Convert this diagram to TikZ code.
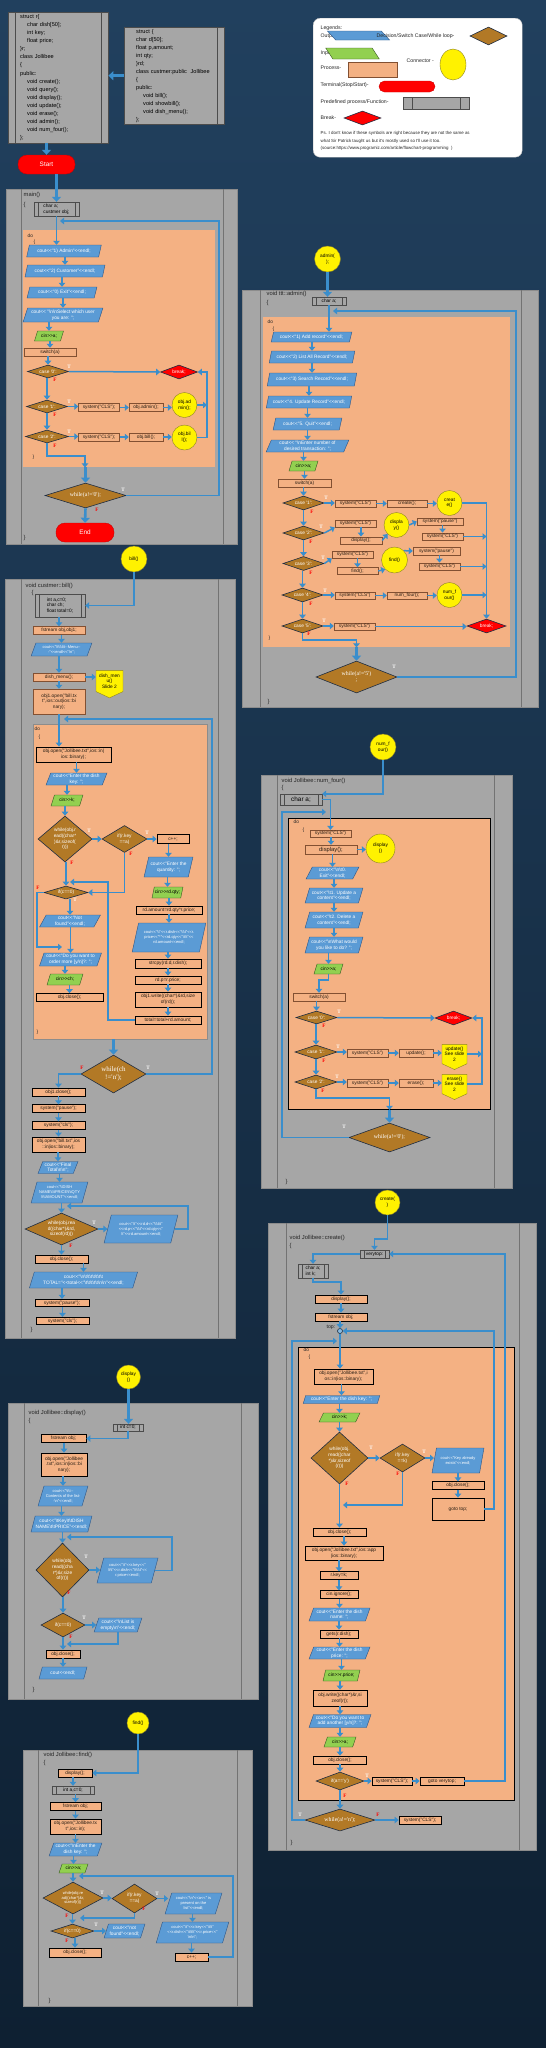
\documentclass[tikz,border=0pt]{standalone}
\usepackage{fontspec}
\setmainfont{Liberation Sans}[Ligatures=TeXOff]
\newfontfamily\serifface{Liberation Serif}[Ligatures=TeXOff]
\usetikzlibrary{shapes.geometric}
\usetikzlibrary{shapes.symbols}
\usetikzlibrary{arrows.meta}

\definecolor{bgtop}{RGB}{33,64,94}
\definecolor{bgbot}{RGB}{14,32,50}
\definecolor{panelgray}{RGB}{166,166,166}
\definecolor{doorange}{RGB}{244,177,131}
\definecolor{procline}{RGB}{130,80,50}
\definecolor{outblue}{RGB}{91,155,213}
\definecolor{outline}{RGB}{46,84,130}
\definecolor{ingreen}{RGB}{146,208,80}
\definecolor{inline}{RGB}{56,87,35}
\definecolor{decbrown}{RGB}{178,121,38}
\definecolor{decline}{RGB}{31,45,66}
\definecolor{arblue}{RGB}{58,142,204}
\definecolor{connline}{RGB}{140,130,40}
\definecolor{txtdark}{RGB}{40,30,20}

\newcommand{\bsl}{\textbackslash}
\newcommand{\fcode}{\fontsize{4.8}{5.6}\selectfont}
\newcommand{\fhead}{\fontsize{5.8}{6.6}\selectfont}
\newcommand{\fwhile}{\serifface\fontsize{5.8}{6.6}\selectfont}

\tikzset{
  every node/.style={align=center, inner sep=0.5pt, font=\fcode},
  sz/.style 2 args={minimum width=#1, minimum height=#2},
  smalltxt/.style={font=\fontsize{4}{4.8}\selectfont},
  outbox/.style={trapezium, trapezium left angle=70, trapezium right angle=110,
    trapezium stretches, inner xsep=-1pt, draw=outline, fill=outblue, text=white, line width=0.4pt},
  inbox/.style={outbox, draw=inline, fill=ingreen, text=black},
  procbox/.style={rectangle, draw=procline, fill=doorange, text=txtdark, line width=0.4pt},
  procbold/.style={procbox, draw=black, line width=0.8pt},
  decbox/.style={diamond, aspect=3, inner sep=0pt, draw=decline, fill=decbrown, text=white, line width=0.6pt},
  brkbox/.style={decbox, fill=red},
  wtxt/.style={font=\fwhile},
  conn/.style={circle, inner sep=0pt, draw=connline, fill=yellow, text=black},
  offpage/.style={signal, signal to=south, signal pointer angle=130, inner sep=0pt,
    draw=connline, fill=yellow, text=black},
  term/.style={rectangle, rounded corners=9pt, draw=red!80!black, fill=red, text=white,
    font=\fontsize{6.4}{7}\selectfont},
  predef/.style={rectangle, draw=black!70, fill=panelgray, text=black, line width=0.4pt,
    path picture={\draw[black!70, line width=0.4pt]
      ([xshift=#1]path picture bounding box.north west) -- ([xshift=#1]path picture bounding box.south west)
      ([xshift=-#1]path picture bounding box.north east) -- ([xshift=-#1]path picture bounding box.south east);}},
  predef/.default=4pt,
  predefr/.style={rectangle, draw=black!70, fill=panelgray, text=black, line width=0.4pt,
    path picture={\draw[black!70, line width=0.4pt]
      ([xshift=-7pt]path picture bounding box.north east) -- ([xshift=-7pt]path picture bounding box.south east);}},
  dobox/.style={rectangle, anchor=north west, inner sep=0pt, fill=doorange},
  panel/.style={fill=panelgray, draw=black!45, line width=0.6pt},
  pline/.style={draw=black!55, line width=0.5pt},
  hdr/.style={anchor=west, text=black!85, font=\fhead},
  dlab/.style={anchor=west, text=black!85},
  lgtxt/.style={anchor=west, text=black!85, font=\fontsize{5.2}{6}\selectfont},
  tlab/.style={text=white, font=\serifface\bfseries\fontsize{5.2}{5.2}\selectfont},
  flab/.style={tlab, text=red},
  ar/.style={draw=arblue, line width=1.5pt, -{Triangle[length=4pt,width=6.5pt]}},
  arb/.style={draw=arblue, line width=2.6pt, -{Triangle[length=5pt,width=9pt]}},
}

\begin{document}
\begin{tikzpicture}[x=1pt,y=-1pt]

 \useasboundingbox (0,0) rectangle (546,2048);
 \shade[top color=bgtop, bottom color=bgbot] (0,0) rectangle (546,2048);

 % function panels
 \foreach \a/\b/\c/\d/\e/\f in {6/189/237/544/21/223, 242/290/538/707/260/521,
   5/579/235/1338/21/218, 261/775/512/1188/277/494, 268/1223/536/1850/286/519,
   8/1403/258/1699/24/241, 23/1750/252/2006/38/237}
 {
   \draw[panel] (\a,\b) rectangle (\c,\d);
   \draw[pline] (\e,\b) -- (\e,\d) (\f,\b) -- (\f,\d);
 }

 % do blocks
 \node[dobox, sz={192}{237}] (mdo) at (23,230) {};
 \node[dobox, sz={247}{330}] (ado) at (263,317) {};
 \node[dobox, draw=black!45, sz={174}{315}] (bdo) at (33,724) {};
 \node[dobox, draw=black, line width=0.8pt, sz={202}{291}] (ndo) at (288,818) {};
 \node[dobox, draw=black, line width=0.8pt, sz={216}{453}] (cdo) at (298,1347) {};

 % structs and class
 \node[predef=7pt, anchor=north west, sz={100}{131}, text width=76, align=left,
   font=\fontsize{5.6}{8.1}\selectfont] (s1) at (8,12) {struct r\{\\
   \hspace*{7pt}char dish[50];\\ \hspace*{7pt}int key;\\ \hspace*{7pt}float price;\\
   \}r;\\ class Jollibee\\ \{\\ public:\\ \hspace*{7pt}void create();\\
   \hspace*{7pt}void query();\\ \hspace*{7pt}void display();\\ \hspace*{7pt}void update();\\
   \hspace*{7pt}void erase();\\ \hspace*{7pt}void admin();\\ \hspace*{7pt}void num\_four();\\ \};};
 \node[predefr, anchor=north west, sz={100}{97}, text width=76, align=left,
   font=\fontsize{5.6}{8}\selectfont] (s2) at (124,27) {struct \{\\ char d[50];\\
   float p,amount;\\ int qty;\\ \}rd;\\ class custmer:public\ \ Jollibee\\ \{\\ public:\\
   \hspace*{7pt}void bill();\\ \hspace*{7pt}void showbill();\\ \hspace*{7pt}void dish\_menu();\\ \};};
 \node[term, sz={57}{19}] (start) at (46.5,164.5) {Start};

 % legend
 \node[draw=gray!50, fill=white, rounded corners=7pt, anchor=north west, inner sep=0pt,
   sz={209}{139}] (lg) at (313,18) {};
 \node[lgtxt] (lg1) at (320,28) {Legends:};
 \node[lgtxt] (lg2) at (320,36) {Output -};
 \node[outbox, sz={29}{9}] (lgo) at (358.5,35.5) {};
 \node[lgtxt] (lg3) at (376,36) {Decision/Switch Case/While loop-};
 \node[decbox, sz={37}{18}] (lgd) at (488.5,36) {};
 \node[lgtxt] (lg4) at (320,53) {Input-};
 \node[inbox, sz={25}{11}] (lgi) at (352.5,53.5) {};
 \node[lgtxt] (lg5) at (406,61) {Connector -};
 \node[conn, ellipse, minimum width=26, minimum height=31] (lgc) at (453,64.5) {};
 \node[lgtxt] (lg6) at (320,68) {Process-};
 \node[procbox, sz={49}{15}] (lgp) at (372.5,69.5) {};
 \node[lgtxt] (lg7) at (320,85) {Terminal(Stop/Start)-};
 \node[term, rounded corners=5.5pt, sz={56}{11}] (lgt) at (407,86.5) {};
 \node[lgtxt] (lg8) at (320,102) {Predefined process/Function-};
 \node[predef=9pt, sz={66}{12}] (lgf) at (436,103) {};
 \node[lgtxt] (lg9) at (320,118) {Break-};
 \node[brkbox, sz={37}{14}] (lgb) at (362.5,118) {};
 \node[lgtxt, font=\fontsize{4.4}{5}\selectfont] (lg10) at (320,133)
   {Ps. I don't know if these symbols are right because they are not the same as};
 \node[lgtxt, font=\fontsize{4.4}{5}\selectfont] (lg11) at (320,141)
   {what Sir Patrick taught us but it's mostly used so I'll use it too.};
 \node[lgtxt, font=\fontsize{4.4}{5}\selectfont] (lg12) at (320,148)
   {(source:https://www.programiz.com/article/flowchart-programming\ \ )};

 % main()
 \node[predef, sz={45}{14}, align=left] (mv) at (56.5,209) {char a;\\custmer obj;};
 \node[outbox, sz={75}{12}] (m1) at (64,251) {cout<<"1) Admin"<<endl;};
 \node[outbox, sz={80}{12}] (m2) at (65,271) {cout<<"2) Customer"<<endl;};
 \node[outbox, sz={70}{11}] (m3) at (62,292.5) {cout<<"0) Exit"<<endl;};
 \node[outbox, sz={80}{14}] (m4) at (63,315) {cout<< "\bsl n\bsl nSelect which user\\you are: ";};
 \node[inbox, sz={29}{10}] (m5) at (49,336) {cin>>a;};
 \node[procbox, sz={52}{8}] (m6) at (50,352) {switch(a)};
 \node[decbox, sz={41}{13}] (mc0) at (48,371.5) {case '0':};
 \node[brkbox, sz={37}{14}] (mbr) at (179,372) {break;};
 \node[decbox, sz={41}{13}] (mc1) at (47,406.5) {case '1':};
 \node[procbox, sz={41}{8}] (ms1) at (99,407.5) {system("CLS");};
 \node[procbox, sz={34}{8}] (ma1) at (146,407.5) {obj.admin();};
 \node[conn, minimum size=25] (mo1) at (184.5,405) {obj.ad\\min();};
 \node[decbox, sz={43}{13}] (mc2) at (47,436.5) {case '2':};
 \node[procbox, sz={41}{8}] (ms2) at (99,437) {system("CLS");};
 \node[procbox, sz={34}{8}] (ma2) at (146,437) {obj.bill();};
 \node[conn, minimum size=25] (mo2) at (184.5,437.5) {obj.bil\\l();};
 \node[decbox, wtxt, sz={81}{25}] (mw) at (85.5,495.5) {while(a!='0');};
 \node[term, sz={58}{19}] (mend) at (85,532.5) {End};

 % admin()
 \node[conn, minimum size=26] (ac) at (327.5,259) {admin(\\);};
 \node[predef, sz={34}{8}] (av) at (329,301) {char a;};
 \node[outbox, sz={81}{10}] (a1) at (311.5,337) {cout<<"1) Add record"<<endl;};
 \node[outbox, sz={86}{12}] (a2) at (312,357) {cout<<"2) List All Record"<<endl;};
 \node[outbox, sz={90}{13}] (a3) at (312,379.5) {cout<<"3) Search Record"<<endl;};
 \node[outbox, sz={86}{12}] (a4) at (309,402) {cout<<"4. Update Record"<<endl;};
 \node[outbox, sz={69}{12}] (a5) at (307.5,424) {cout<<"5. Quit"<<endl;};
 \node[outbox, sz={83}{12}] (a6) at (307.5,446) {cout<< "\bsl nEnter number of\\desired transaction: ";};
 \node[inbox, sz={29}{10}] (a7) at (303.5,466) {cin>>a;};
 \node[procbox, sz={53}{8}] (a8) at (304.5,483) {switch(a)};
 \node[decbox, sz={41}{14}] (acs1) at (303.5,503) {case '1':};
 \node[procbox, sz={41}{7.5}] (as1) at (355.5,503.5) {system("CLS")};
 \node[procbox, sz={40}{7.5}] (acr) at (407,503.5) {create();};
 \node[conn, minimum size=25] (ao1) at (449.5,503) {creat\\e()};
 \node[decbox, sz={41}{14}] (acs2) at (303.5,533) {case '2':};
 \node[procbox, sz={41}{7.5}] (as2) at (355.5,523.5) {system("CLS")};
 \node[procbox, sz={42}{7.5}] (adp) at (361,540.5) {display();};
 \node[conn, minimum size=25] (ao2) at (396.5,525) {displa\\y()};
 \node[procbox, sz={46}{7.5}] (ap2) at (440,521.5) {system("pause")};
 \node[procbox, sz={41}{7.5}] (ax2) at (442.5,536.5) {system("CLS")};
 \node[decbox, sz={41}{14}] (acs3) at (303.5,563.5) {case '3':};
 \node[procbox, sz={41}{7.5}] (as3) at (352.5,554.5) {system("CLS")};
 \node[procbox, sz={41}{7}] (afd) at (357.5,571) {find();};
 \node[conn, minimum size=26] (ao3) at (394.5,560) {find()};
 \node[procbox, sz={47}{7.5}] (ap3) at (436.5,551) {system("pause")};
 \node[procbox, sz={41}{7.5}] (ax3) at (439.5,566.5) {system("CLS")};
 \node[decbox, sz={41}{14}] (acs4) at (302.5,595) {case '4':};
 \node[procbox, sz={40}{7.5}] (as4) at (355,595.5) {system("CLS")};
 \node[procbox, sz={40}{7.5}] (anf) at (407,595.5) {num\_four();};
 \node[conn, minimum size=25] (ao4) at (449.5,595) {num\_f\\our()};
 \node[decbox, sz={41}{14}] (acs5) at (302.5,626) {case '5':};
 \node[procbox, sz={41}{7.5}] (as5) at (354.5,626.5) {system("CLS")};
 \node[brkbox, sz={39}{14}] (abr) at (486.5,626) {break;};
 \node[decbox, wtxt, aspect=2.5, sz={81}{32}] (aw) at (356.5,677) {while(a!='5')\\;};

 % custmer::bill()
 \node[conn, minimum size=26] (bc) at (134,559) {bill()};
 \node[predef, sz={50}{23}, align=left] (bv) at (60,605.5) {int a,c=0;\\char ch;\\float total=0;};
 \node[procbox, sz={52}{8}] (bf) at (59,630.5) {fstream obj,obj1;};
 \node[outbox, smalltxt, sz={61}{13}] (b1) at (61.5,649.5) {cout<<"\bsl t\bsl t\bsl t\bsl t--Menu--\\-"<<endl<<"\bsl n";};
 \node[procbox, sz={52}{8}] (bdm) at (59,677) {dish\_menu();};
 \node[offpage, sz={27}{26}] (bdc) at (109.5,681) {dish\_men\\u()\\Slide 2};
 \node[procbox, sz={52}{25}] (bo) at (59,701.5) {obj1.open("bill.tx\\t",ios::out|ios::bi\\nary);};
 \node[procbold, sz={75}{15}] (b2) at (73.5,754.5) {obj.open("Jollibee.txt",ios::in|\\ios::binary);};
 \node[outbox, sz={61}{12}] (b3) at (76.5,779) {cout<<"Enter the dish\\key: ";};
 \node[inbox, sz={32}{11}] (b4) at (67,800.5) {cin>>k;};
 \node[decbox, aspect=1.1, sz={54}{46}] (bw1) at (65,839) {while(obj.r\\ead((char*\\)\&r,sizeof(\\r)))};
 \node[decbox, aspect=1.5, sz={45}{27}] (bif) at (124.5,839) {if(r.key\\==a)};
 \node[procbold, sz={32}{9}] (bcc) at (173,839) {c++;};
 \node[outbox, sz={49}{20}] (b5) at (168.5,867) {cout<<"Enter the\\quantity: ";};
 \node[inbox, sz={31}{11}] (b6) at (167.5,892.5) {cin>>rd.qty;};
 \node[procbold, sz={66}{8}] (b7) at (169,910) {rd.amount=rd.qty*r.price;};
 \node[outbox, smalltxt, sz={74}{29}] (b8) at (169,937.5) {cout<<"\bsl t"<<r.dish<<"\bsl t\bsl t"<<r.\\price<<"*"<<rd.qty<<"\bsl t\bsl t"<<\\rd.amount<<endl;};
 \node[procbold, sz={66}{9}] (b9) at (168,963.5) {strcpy(rd.d,r.dish);};
 \node[procbold, sz={66}{8}] (b10) at (168,980) {rd.p=r.price;};
 \node[procbold, sz={66}{15}] (b11) at (168,999.5) {obj1.write((char*)\&rd,size\\of(rd));};
 \node[procbold, sz={66}{8}] (b12) at (168,1020) {total=total+rd.amount;};
 \node[decbox, sz={44}{13}] (bic) at (66,892.5) {if(c==0)};
 \node[outbox, sz={61}{12}] (b13) at (70,921) {cout<<"Not\\found"<<endl;};
 \node[outbox, sz={62}{13}] (b14) at (70.5,959.5) {cout<<"Do you want to\\order more [y/n]?: ";};
 \node[inbox, sz={36}{11}] (b15) at (65,979.5) {cin>>ch;};
 \node[procbold, sz={67}{8}] (b16) at (69.5,997.5) {obj.close();};
 \node[decbox, aspect=1.7, sz={65}{38}, font=\serifface\fontsize{7}{8}\selectfont] (bw2) at (113.5,1074) {while(ch\\!='n');};
 \node[procbold, sz={53}{8}] (b17) at (58.5,1092) {obj1.close();};
 \node[procbold, sz={53}{7.5}] (b18) at (58.5,1108.5) {system("pause");};
 \node[procbold, sz={53}{7.5}] (b19) at (58.5,1125.5) {system("cls");};
 \node[procbold, sz={53}{15}] (b20) at (58.5,1144.5) {obj.open("bill.txt",ios\\::in|ios::binary);};
 \node[outbox, sz={40}{12}] (b21) at (58,1167.5) {cout<<"Final\\Total\bsl n\bsl n";};
 \node[outbox, smalltxt, sz={57}{21}] (b22) at (59.5,1192.5) {cout<<"\bsl tDISH\\NAME\bsl t\bsl tPRICE\bsl t\bsl tQTY\\\bsl t\bsl tAMOUNT"<<endl;};
 \node[decbox, aspect=2, sz={73}{32}] (bw3) at (61.5,1229) {while(obj.rea\\d((char*)\&rd,\\sizeof(rd)))};
 \node[outbox, smalltxt, sz={74}{28}] (b23) at (141,1229) {cout<<"\bsl t"<<rd.d<<"\bsl t\bsl t\bsl t"\\<<rd.p<<"\bsl t\bsl t"<<rd.qty<<"\\\bsl t"<<rd.amount<<endl;};
 \node[procbold, sz={53}{8}] (b24) at (61.5,1259) {obj.close();};
 \node[outbox, sz={109}{16}] (b25) at (83.5,1280) {cout<<"\bsl n\bsl t\bsl t\bsl t\bsl t\bsl t\bsl t\bsl t\\TOTAL="<<total<<"\bsl t\bsl t\bsl t\bsl t\bsl t\bsl n\bsl n"<<endl;};
 \node[procbold, sz={54}{7.5}] (b26) at (62,1303) {system("pause");};
 \node[procbold, sz={53}{7.5}] (b27) at (62.5,1321) {system("cls");};

 % Jollibee::num_four()
 \node[conn, minimum size=26] (nc) at (383,747) {num\_f\\our()};
 \node[predef, sz={42}{11}, font=\fontsize{6.4}{7}\selectfont] (nv) at (301,799.5) {char a;};
 \node[procbox, sz={41}{7}] (n1) at (330.5,833.5) {system("CLS")};
 \node[procbox, sz={52}{9}, font=\fontsize{5.8}{6.5}\selectfont] (n2) at (331,849.5) {display();};
 \node[conn, minimum size=29] (ncd) at (380.5,848.5) {display\\()};
 \node[outbox, sz={53}{12}] (n3) at (332.5,873) {cout<<"\bsl n\bsl t0.\\Exit"<<endl;};
 \node[outbox, sz={58}{15}] (n4) at (334,895.5) {cout<<"\bsl t1. Update a\\content"<<endl;};
 \node[outbox, sz={58}{16}] (n5) at (334,920) {cout<<"\bsl t2. Delete a\\content"<<endl;};
 \node[outbox, sz={58}{16}] (n6) at (334,945) {cout<<"\bsl nWhat would\\you like to do? ";};
 \node[inbox, sz={29}{10}] (n7) at (328.5,969) {cin>>a;};
 \node[procbox, sz={52}{8}] (n8) at (319,997) {switch(a)};
 \node[decbox, sz={41}{13}] (nc0) at (316.5,1017.5) {case '0':};
 \node[brkbox, sz={37}{14}] (nbr) at (453.5,1018) {break;};
 \node[decbox, sz={42}{14}] (nc1) at (316,1052) {case '1':};
 \node[procbox, sz={41}{8}] (ns1) at (367.5,1053) {system("CLS")};
 \node[procbox, sz={34}{8}] (nup) at (416,1053) {update();};
 \node[offpage, sz={25}{24}] (nou) at (454.5,1054) {update()\\See slide\\2};
 \node[decbox, sz={42}{14}] (nc2) at (316,1082) {case '2':};
 \node[procbox, sz={41}{8}] (ns2) at (367.5,1083) {system("CLS")};
 \node[procbox, sz={34}{8}] (ner) at (416,1083) {erase();};
 \node[offpage, sz={25}{24}] (noe) at (454.5,1084) {erase()\\See slide\\2};
 \node[decbox, wtxt, sz={81}{29}] (nw) at (389.5,1137.5) {while(a!='0');};

 % Jollibee::create()
 \node[conn, minimum size=25] (crc) at (387.5,1202.5) {create(\\)};
 \node[predef, sz={29}{8}] (cvt) at (374.5,1254) {verytop:};
 \node[predef, sz={30}{14}, align=left] (cv) at (313,1271) {char a;\\int k;};
 \node[procbold, sz={52}{8}] (cd) at (341,1299) {display();};
 \node[procbold, sz={52}{8}] (cfs) at (341,1317) {fstream obj;};
 \node[anchor=east, text=black!85, font=\fontsize{5.2}{6}\selectfont] (ctoplab) at (336,1327) {top:};
 \node[circle, draw=decline, fill=arblue!60, line width=0.6pt, minimum size=5, inner sep=0pt] (ctop) at (340,1331) {};
 \node[procbold, sz={59}{15}] (c1) at (343.5,1376.5) {obj.open("Jollibee.txt",i\\os::in|ios::binary);};
 \node[outbox, sz={77}{8}] (c2) at (341.5,1399.5) {cout<<"Enter the dish key: ";};
 \node[inbox, sz={41}{9}] (c3) at (339.5,1417.5) {cin>>k;};
 \node[decbox, aspect=1.1, sz={57}{52}] (cw1) at (339.5,1458) {while(obj.\\read((char\\*)\&r,sizeof\\(r)))};
 \node[decbox, aspect=1.5, sz={45}{28}] (cif) at (402.5,1458) {if(r.key\\==k)};
 \node[outbox, smalltxt, sz={52}{25}] (c4) at (458,1460.5) {cout<<"Key already\\exists"<<endl;};
 \node[procbold, sz={52}{7.5}] (c5) at (458,1485.5) {obj.close();};
 \node[procbold, sz={52}{22}] (cgt) at (458,1509) {goto top;};
 \node[procbold, sz={53}{8}] (c6) at (339.5,1532) {obj.close();};
 \node[procbold, sz={78}{14}] (c7) at (344,1553) {obj.open("Jollibee.txt",ios::app\\|ios::binary);};
 \node[procbold, sz={38}{7.5}] (c8) at (339,1575.5) {r.key=k;};
 \node[procbold, sz={38}{7.5}] (c9) at (339,1594.5) {cin.ignore();};
 \node[outbox, sz={61}{13}] (c10) at (339.5,1614.5) {cout<<"Enter the dish\\name: ";};
 \node[procbold, sz={38}{8}] (c11) at (339,1634) {gets(r.dish);};
 \node[outbox, sz={61}{12}] (c12) at (339.5,1653) {cout<<"Enter the dish\\price: ";};
 \node[inbox, sz={37}{11}] (c13) at (341.5,1675.5) {cin>>r.price;};
 \node[procbold, sz={54}{16}] (c14) at (340,1698) {obj.write((char*)\&r,si\\zeof(r));};
 \node[outbox, sz={62}{13}] (c15) at (340,1721) {cout<<"Do you want to\\add another [y/n]?: ";};
 \node[inbox, sz={32}{10}] (c16) at (340,1742) {cin>>a;};
 \node[procbold, sz={53}{8}] (c17) at (340,1760) {obj.close();};
 \node[decbox, sz={48}{18}] (cif2) at (340,1781) {if(a=='y')};
 \node[procbold, sz={40}{8}] (cs1) at (392,1781) {system("CLS");};
 \node[procbold, sz={44}{8}] (cvg) at (442,1781) {goto verytop;};
 \node[decbox, wtxt, sz={70}{22}] (cwh) at (340,1820) {while(a!='n');};
 \node[procbold, sz={42}{8}] (cs2) at (420,1820) {system("CLS");};

 % Jollibee::display()
 \node[conn, minimum size=24] (dc) at (128.5,1377) {display\\()};
 \node[predef, sz={30}{7}] (dv) at (128,1427.5) {int c=0;};
 \node[procbold, sz={45}{7.5}] (d1) at (63.5,1438.5) {fstream obj;};
 \node[procbold, sz={46}{23}] (d2) at (64,1464.5) {obj.open("Jollibee\\.txt",ios::in|ios::bi\\nary);};
 \node[outbox, smalltxt, sz={50}{20}] (d3) at (63,1496) {cout<<"\bsl t\bsl t--\\Contents of the list-\\-\bsl n"<<endl;};
 \node[outbox, sz={61}{16}] (d4) at (61.5,1524) {cout<<"\bsl tKey\bsl t\bsl tDISH\\NAME\bsl t\bsl tPRICE"<<endl;};
 \node[decbox, aspect=1, sz={53}{54}] (dw) at (62.5,1570) {while(obj.\\read((cha\\r*)\&r,size\\of(r)))};
 \node[outbox, smalltxt, sz={61}{25}] (d5) at (127.5,1570.5) {cout<<"\bsl t"<<r.key<<"\\\bsl t\bsl t"<<r.dish<<"\bsl t\bsl t\bsl t"<<\\r.price<<endl;};
 \node[decbox, aspect=2, sz={44}{24}] (dif) at (63,1625) {if(c==0)};
 \node[outbox, sz={48}{14}] (d6) at (118,1625) {cout<<"\bsl nList is\\empty\bsl n"<<endl;};
 \node[procbold, sz={34}{8}] (d7) at (63,1654) {obj.close();};
 \node[outbox, sz={48}{12}] (d8) at (63,1673) {cout<<endl;};

 % Jollibee::find()
 \node[conn, minimum size=22] (fc) at (138,1723) {find()};
 \node[procbold, sz={34}{8}] (fd1) at (75,1773) {display();};
 \node[predef, sz={42}{8}] (fd2) at (73,1790) {int a,c=0;};
 \node[procbold, sz={51}{8}] (fd3) at (75.5,1806.5) {fstream obj;};
 \node[procbold, sz={51}{15}] (fd4) at (75.5,1826.5) {obj.open("Jollibee.tx\\t",ios::in);};
 \node[outbox, sz={53}{13}] (fd5) at (75.5,1849.5) {cout<<"\bsl nEnter the\\dish key: ";};
 \node[inbox, sz={29}{9}] (fd6) at (73.5,1868.5) {cin>>a;};
 \node[decbox, smalltxt, aspect=1.8, sz={60}{32}] (fw) at (73,1898) {while(obj.re\\ad((char*)\&r,\\sizeof(r)))};
 \node[decbox, aspect=1.5, sz={45}{29}] (fif) at (134.5,1898.5) {if(r.key\\==a)};
 \node[outbox, smalltxt, sz={57}{21}] (fd7) at (193.5,1903.5) {cout<<"\bsl n"<<a<<" is\\present on the\\list"<<endl;};
 \node[outbox, smalltxt, sz={73}{21}] (fd8) at (192.5,1932.5) {cout<<"\bsl t"<<r.key<<"\bsl t\bsl t"\\<<r.dish<<"\bsl t\bsl t\bsl t"<<r.price<<"\\\bsl n\bsl n";};
 \node[procbold, sz={33}{8}] (fd9) at (191.5,1957) {c++;};
 \node[decbox, sz={43}{14}] (fic) at (72.5,1931) {if(c==0)};
 \node[outbox, sz={41}{14}] (fd10) at (124.5,1931) {cout<<"not\\found"<<endl;};
 \node[procbold, sz={52}{9}] (fd11) at (75,1952.5) {obj.close();};

 % loop corners
 \coordinate (mloop) at (219,221);  \coordinate (mjoin) at (60,221);
 \coordinate (mbx) at (207,372);    \coordinate (mfal) at (85,456);
 \coordinate (aloop) at (516,311);  \coordinate (ajoin) at (333,311);
 \coordinate (afal) at (356.5,640);
 \coordinate (bloop) at (212,719);  \coordinate (bjoin) at (64,719);
 \coordinate (bx1) at (108,882);    \coordinate (bjoin2) at (70,882);
 \coordinate (bx2) at (37,947);     \coordinate (bjoin3) at (62,947);
 \coordinate (bx3) at (188,1206);   \coordinate (bjoin4) at (67,1206);
 \coordinate (nloop) at (282,812);  \coordinate (njoin) at (326,812);
 \coordinate (nbx) at (482,1018);   \coordinate (nfal) at (389.5,1098);
 \coordinate (ctl) at (494,1331);   \coordinate (cvl) at (505,1254);
 \coordinate (cwl) at (292,1341);   \coordinate (cjoin) at (337,1341);
 \coordinate (cjoin2) at (343,1505);
 \coordinate (dx1) at (172,1537);   \coordinate (djoin) at (67,1537);
 \coordinate (djoin2) at (67,1644);
 \coordinate (fx1) at (233,1876);   \coordinate (fjoin) at (79,1876);
 \coordinate (fjoin2) at (80,1918);

 % straight downward steps
 \foreach \a/\b in {m1/m2,m2/m3,m3/m4,m4/m5,m5/m6,m6/mc0,mc0/mc1,mc1/mc2,
   a1/a2,a2/a3,a3/a4,a4/a5,a5/a6,a6/a7,a7/a8,a8/acs1,acs1/acs2,acs2/acs3,acs3/acs4,acs4/acs5,
   as2/adp,ap2/ax2,as3/afd,ap3/ax3,
   bv/bf,bf/b1,b1/bdm,bdm/bo,b2/b3,b3/b4,b4/bw1,bw1/bic,bic/b13,b13/b14,b14/b15,b15/b16,
   bcc/b5,b5/b6,b6/b7,b7/b8,b8/b9,b9/b10,b10/b11,b11/b12,
   b17/b18,b18/b19,b19/b20,b20/b21,b21/b22,b22/bw3,bw3/b24,b24/b25,b25/b26,b26/b27,
   n1/n2,n2/n3,n3/n4,n4/n5,n5/n6,n6/n7,n8/nc0,nc0/nc1,nc1/nc2,
   cd/cfs,c1/c2,c2/c3,c3/cw1,c4/c5,c5/cgt,cw1/c6,c6/c7,c7/c8,c8/c9,c9/c10,c10/c11,c11/c12,
   c12/c13,c13/c14,c14/c15,c15/c16,c16/c17,c17/cif2,
   d1/d2,d2/d3,d3/d4,d4/dw,dw/dif,dif/d7,d7/d8,
   fd1/fd2,fd2/fd3,fd3/fd4,fd4/fd5,fd5/fd6,fd6/fw,fd7/fd8,fd8/fd9,fw/fic,fic/fd11}
   \draw[ar] (\b.north |- \a.south) -- (\b.north);

 % straight sideways steps
 \foreach \a/\b in {mc1/ms1,ms1/ma1,ma1/mo1,mc2/ms2,ms2/ma2,ma2/mo2,
   acs1/as1,as1/acr,acr/ao1,acs4/as4,as4/anf,anf/ao4,acs5/as5,as5/abr,
   bw1/bif,bif/bcc,bw3/b23,nc1/ns1,ns1/nup,nup/nou,nc2/ns2,ns2/ner,ner/noe,
   cw1/cif,cif/c4,cif2/cs1,cs1/cvg,cwh/cs2,dw/d5,dif/d6,fw/fif,fif/fd7,fic/fd10}
   \draw[ar] (\a.east) -- (\a.east -| \b.west);

 % main() arrows
 \draw[arb] (s2.west) -- (s2.west -| s1.east);
 \draw[arb] (s1.south -| start) -- (start.north);
 \draw[arb] (start.south -| mv) -- (mv.north);
 \draw[ar] (mv.south) -- (mv.south |- m1.north);
 \draw[ar] (mw.east) -| (mloop) -- (mjoin);
 \draw[ar] (mc0.east) -- (mbr.west);
 \draw[ar] (mo1.east) -- (mo1.east -| mbx);
 \draw[ar] (mo2.east) -| (mbx) -- (mbr.east);
 \draw[ar] (mc2.south) |- (mfal) -- (mdo.south -| mfal);
 \draw[arb] (mdo.south -| mw) -- (mw.north);
 \draw[arb] (mw.south) -- (mend.north);

 % admin() arrows
 \draw[arb] (ac.south) -- (ac.south |- av.north);
 \draw[ar] (av.south) -- (av.south |- a1.north);
 \draw[ar] (aw.east) -| (aloop) -- (ajoin);
 \draw[ar] (acs2.east) -- (as2.south west);
 \draw[ar] (adp.east) -- (ao2.south west);
 \draw[ar] (ao2.east) -- (ap2.west);
 \draw[ar] (acs3.east) -- (as3.south west);
 \draw[ar] (afd.east) -- (ao3.south west);
 \draw[ar] (ao3.north east) -- (ap3.west);
 \draw[ar] (ao1.east) -| (abr.north);
 \draw[ar] (ax2.east) -- (ax2.east -| abr.north);
 \draw[ar] (ax3.east) -- (ax3.east -| abr.north);
 \draw[ar] (ao4.east) -- (ao4.east -| abr.north);
 \draw[ar] (acs5.south) |- (afal) -- (ado.south -| afal);
 \draw[arb] (ado.south -| aw) -- (aw.north);

 % bill() arrows
 \draw[ar] (bc.south) |- (bv.east);
 \draw[ar] (bdm.east) -- (bdm.east -| bdc.west);
 \draw[ar] (bo.south) -- (bo.south |- b2.north);
 \draw[ar] (bw2.east) -| (bloop) -- (bjoin);
 \draw[ar] (b12.west) -| (bx1) -- (bjoin2);
 \draw[ar] (bif.south) |- (bic.east);
 \draw[ar] (bic.west) -| (bx2) -- (bjoin3);
 \draw[arb] (bdo.south -| bw2) -- (bw2.north);
 \draw[ar] (bw2.west) -| (b17.north);
 \draw[ar] (b23.east) -| (bx3) -- (bjoin4);

 % num_four() arrows
 \draw[ar] (nc.south) |- (nv.north east);
 \draw[ar] (nv.east) -| (n1.north);
 \draw[ar] (nw.west) -| (nloop) -- (njoin);
 \draw[ar] (n2.east) -- (n2.east -| ncd.west);
 \draw[ar] (n7.south) -- ++(0,6) -| (n8.north);
 \draw[ar] (nc0.east) -- (nbr.west);
 \draw[ar] (nou.east) -- (nou.east -| nbx);
 \draw[ar] (noe.east) -| (nbx) -- (nbr.east);
 \draw[ar] (nc2.south) |- (nfal) -- (ndo.south -| nfal);
 \draw[arb] (ndo.south -| nw) -- (nw.north);

 % create() arrows
 \draw[ar] (crc.south) -- ++(0,24) -| (cvt.north);
 \draw[ar] (cvt.west) -| (cv.north);
 \draw[ar] (cv.south) -- ++(0,4) -| (cd.north);
 \draw[ar] (ctop.north |- cfs.south) -- (ctop.north);
 \draw[ar] (ctop.south) -- (ctop.south |- c1.north);
 \draw[ar] (cgt.east) -| (ctl) -- (ctop.east);
 \draw[ar] (cvg.east) -| (cvl) -- (cvt.east);
 \draw[ar] (cwh.west) -| (cwl) -- (cjoin);
 \draw[ar] (cif.south) |- (cjoin2);
 \draw[ar] (cif2.south) -- (cwh.north);

 % display() arrows
 \draw[arb] (dc.south) -- (dc.south |- dv.north);
 \draw[ar] (dv.south) |- (d1.east);
 \draw[ar] (d5.east) -| (dx1) -- (djoin);
 \draw[ar] (d6.south) |- (djoin2);

 % find() arrows
 \draw[ar] (fc.south) |- (fd1.east);
 \draw[ar] (fd9.east) -| (fx1) -- (fjoin);
 \draw[ar] (fif.south) |- (fjoin2);

 % panel titles and braces
 \foreach \x/\y/\t [count=\i] in {23/195/main(), 23/205/\{, 266/294/void ttt::admin(), 266/303/\{,
   25/586/void custmer::bill(), 31/593/\{, 281/781/void Jollibee::num\_four(), 281/788/\{,
   289/1238/void Jollibee::create(), 289/1246/\{, 28/1413/void Jollibee::display(), 28/1421/\{,
   43/1755/void Jollibee::find(), 43/1763/\{, 23/538/\}, 267/702/\}, 30/1330/\}, 285/1182/\},
   290/1843/\}, 32/1690/\}, 48/2001/\}}
   \node[hdr] (h\i) at (\x,\y) {\t};
 \foreach \x/\y/\t [count=\i] in {27/236/do, 33/242/\{, 32/457/\}, 267/322/do, 272/329/\{, 268/638/\},
   34/729/do, 38/737/\{, 36/1032/\}, 293/822/do, 302/830/\{, 303/1350/do, 308/1357/\{}
   \node[dlab] (dl\i) at (\x,\y) {\t};

 % true / false marks
 \foreach \x/\y [count=\i] in {69/367, 69/402, 69/432, 123/490, 326/498, 321/527, 323/558, 325/591,
   324/621, 394/667, 89/831, 147/833, 75/900, 148/1068, 94/1223, 339/1012, 338/1047, 337/1077,
   344/1127, 371/1448, 424/1452, 367/1776, 300/1815, 86/1557, 84/1618, 102/1893, 157/1894, 96/1925}
   \node[tlab] (tl\i) at (\x,\y) {T};
 \foreach \x/\y [count=\i] in {55/380, 55/415, 55/446, 97/510, 312/512, 311/542, 311/573, 311/604,
   309/634, 131/854, 72/863, 38/888, 82/1068, 71/1246, 324/1026, 324/1061, 323/1091, 347/1484,
   398/1474, 345/1796, 378/1815, 69/1593, 71/1637, 67/1916, 144/1909, 67/1941}
   \node[flab] (fl\i) at (\x,\y) {F};

\end{tikzpicture}
\end{document}
